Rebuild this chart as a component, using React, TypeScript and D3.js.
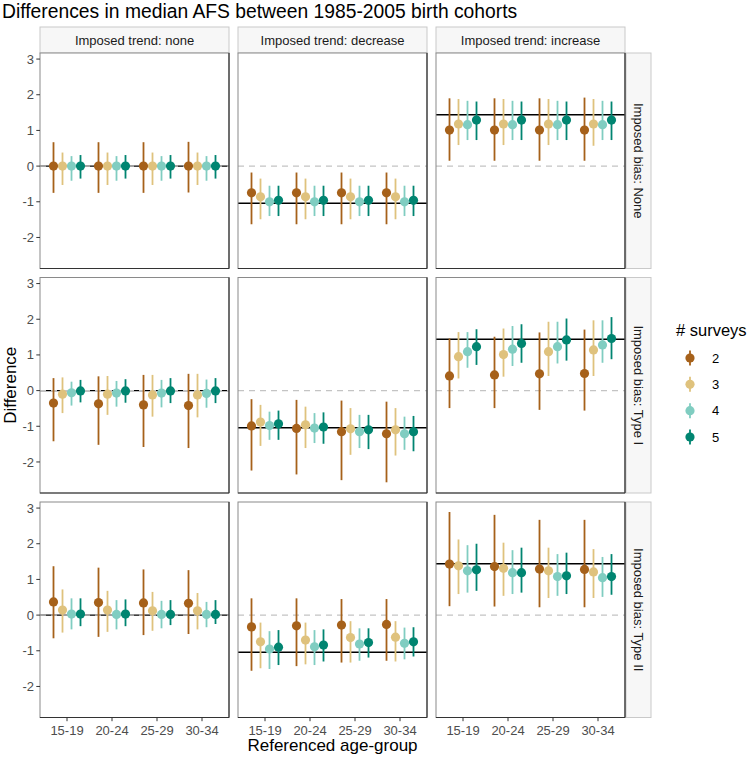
import React from "react";
import * as d3 from "d3";

const ages = ["15-19", "20-24", "25-29", "30-34"];
const surveys = ["2", "3", "4", "5"];
const trends = ["none", "decrease", "increase"];
const biases = ["None", "Type I", "Type II"];
const trueValues = [0, -1.04, 1.44];
const yTicks = [-2, -1, 0, 1, 2, 3];
const colors = ["#A6611A", "#DFC27D", "#80CDC1", "#018571"];

// [age][survey]
const noneNoneEst = [[0, 0, 0, 0], [0, 0, 0, 0], [0, 0, 0, 0], [0, 0, 0, 0]];
const noneNoneLo = [[-0.75, -0.53, -0.41, -0.35], [-0.75, -0.53, -0.41, -0.35], [-0.75, -0.53, -0.41, -0.35], [-0.74, -0.53, -0.41, -0.35]];
const noneNoneHi = [[0.67, 0.38, 0.28, 0.31], [0.67, 0.38, 0.28, 0.31], [0.67, 0.38, 0.28, 0.31], [0.68, 0.38, 0.28, 0.31]];

const noneDecEst = [[-0.75, -0.86, -1.0, -0.96], [-0.75, -0.86, -1.0, -0.96], [-0.75, -0.86, -1.0, -0.96], [-0.75, -0.86, -1.0, -0.96]];
const noneDecLo = [[-1.63, -1.49, -1.4, -1.4], [-1.63, -1.49, -1.4, -1.4], [-1.63, -1.49, -1.4, -1.4], [-1.63, -1.49, -1.4, -1.4]];
const noneDecHi = [[-0.18, -0.35, -0.55, -0.55], [-0.18, -0.35, -0.55, -0.55], [-0.18, -0.35, -0.55, -0.55], [-0.18, -0.35, -0.55, -0.55]];

const noneIncEst = [[1.01, 1.18, 1.16, 1.29], [1.01, 1.18, 1.16, 1.29], [1.01, 1.18, 1.16, 1.29], [1.01, 1.18, 1.16, 1.29]];
const noneIncLo = [[0.15, 0.59, 0.73, 0.73], [0.15, 0.59, 0.73, 0.73], [0.15, 0.59, 0.73, 0.73], [0.15, 0.57, 0.73, 0.73]];
const noneIncHi = [[1.9, 1.88, 1.83, 1.81], [1.9, 1.88, 1.83, 1.81], [1.9, 1.88, 1.83, 1.81], [1.92, 1.88, 1.83, 1.81]];

const t1NoneEst = [[-0.35, -0.1, -0.06, -0.01], [-0.37, -0.1, -0.07, -0.01], [-0.4, -0.12, -0.07, -0.01], [-0.42, -0.12, -0.08, -0.01]];
const t1NoneLo = [[-1.42, -0.63, -0.42, -0.33], [-1.52, -0.68, -0.45, -0.34], [-1.58, -0.73, -0.47, -0.35], [-1.61, -0.75, -0.48, -0.35]];
const t1NoneHi = [[0.35, 0.37, 0.25, 0.3], [0.4, 0.41, 0.27, 0.32], [0.44, 0.44, 0.3, 0.35], [0.47, 0.47, 0.31, 0.35]];

const t1DecEst = [[-0.99, -0.88, -0.98, -0.93], [-1.06, -0.96, -1.05, -1.02], [-1.15, -1.07, -1.15, -1.1], [-1.21, -1.1, -1.21, -1.15]];
const t1DecLo = [[-2.24, -1.55, -1.38, -1.38], [-2.35, -1.61, -1.47, -1.49], [-2.51, -1.8, -1.61, -1.64], [-2.57, -1.82, -1.66, -1.7]];
const t1DecHi = [[-0.24, -0.4, -0.59, -0.56], [-0.26, -0.45, -0.63, -0.61], [-0.28, -0.49, -0.68, -0.68], [-0.31, -0.49, -0.73, -0.71]];

const t1IncEst = [[0.41, 0.95, 1.09, 1.23], [0.44, 1.01, 1.16, 1.32], [0.47, 1.09, 1.23, 1.42], [0.48, 1.14, 1.28, 1.46]];
const t1IncLo = [[-0.49, 0.34, 0.64, 0.72], [-0.49, 0.39, 0.69, 0.78], [-0.54, 0.41, 0.76, 0.84], [-0.56, 0.41, 0.78, 0.88]];
const t1IncHi = [[1.46, 1.64, 1.64, 1.72], [1.51, 1.74, 1.81, 1.86], [1.63, 1.93, 1.93, 2.02], [1.71, 1.97, 1.97, 2.06]];

const t2NoneEst = [[0.37, 0.14, 0.03, 0.03], [0.35, 0.14, 0.02, 0.03], [0.34, 0.12, 0.02, 0.02], [0.33, 0.12, 0.02, 0.02]];
const t2NoneLo = [[-0.65, -0.49, -0.4, -0.31], [-0.61, -0.47, -0.4, -0.31], [-0.56, -0.44, -0.37, -0.28], [-0.53, -0.4, -0.34, -0.25]];
const t2NoneHi = [[1.37, 0.72, 0.47, 0.47], [1.33, 0.68, 0.42, 0.44], [1.28, 0.65, 0.4, 0.42], [1.26, 0.62, 0.37, 0.42]];

const t2DecEst = [[-0.33, -0.75, -0.95, -0.9], [-0.3, -0.7, -0.89, -0.84], [-0.28, -0.63, -0.81, -0.77], [-0.26, -0.62, -0.79, -0.75]];
const t2DecLo = [[-1.56, -1.49, -1.51, -1.4], [-1.43, -1.38, -1.4, -1.3], [-1.33, -1.33, -1.28, -1.19], [-1.28, -1.3, -1.24, -1.16]];
const t2DecHi = [[0.47, -0.21, -0.45, -0.42], [0.47, -0.21, -0.42, -0.4], [0.45, -0.17, -0.37, -0.37], [0.45, -0.17, -0.35, -0.34]];

const t2IncEst = [[1.43, 1.38, 1.24, 1.27], [1.36, 1.31, 1.19, 1.19], [1.29, 1.24, 1.08, 1.1], [1.28, 1.21, 1.05, 1.08]];
const t2IncLo = [[0.25, 0.59, 0.63, 0.68], [0.24, 0.54, 0.59, 0.63], [0.22, 0.48, 0.54, 0.59], [0.22, 0.48, 0.51, 0.57]];
const t2IncHi = [[2.89, 2.12, 1.96, 2.0], [2.81, 2.03, 1.82, 1.89], [2.67, 1.89, 1.71, 1.75], [2.67, 1.85, 1.63, 1.71]];

const panelEst = [
  [noneNoneEst, noneDecEst, noneIncEst],
  [t1NoneEst, t1DecEst, t1IncEst],
  [t2NoneEst, t2DecEst, t2IncEst],
];
const panelLo = [
  [noneNoneLo, noneDecLo, noneIncLo],
  [t1NoneLo, t1DecLo, t1IncLo],
  [t2NoneLo, t2DecLo, t2IncLo],
];
const panelHi = [
  [noneNoneHi, noneDecHi, noneIncHi],
  [t1NoneHi, t1DecHi, t1IncHi],
  [t2NoneHi, t2DecHi, t2IncHi],
];

const FONT = "'Liberation Sans', Arial, Helvetica, sans-serif";
const W = 748;
const H = 757;
const left0 = 40;
const panelW = 189;
const colStep = 198;
const top0 = 53;
const panelH = 215.5;
const rowStep = 224.5;
const stripH = 26;

export default function App() {
  const y = d3.scaleLinear().domain([-2.87, 3.17]).range([panelH, 0]);
  const x = d3.scalePoint<string>().domain(ages).range([0, panelW]).padding(0.6);
  const dodge = d3.scaleBand<string>().domain(surveys).range([-18, 18]);

  const panels: React.ReactNode[] = [];
  biases.forEach((bias, r) => {
    trends.forEach((trend, c) => {
      const px = left0 + c * colStep;
      const py = top0 + r * rowStep;
      const est = panelEst[r][c];
      const lo = panelLo[r][c];
      const hi = panelHi[r][c];
      panels.push(
        <g key={`p-${r}-${c}`} transform={`translate(${px},${py})`}>
          <rect x={0} y={0} width={panelW} height={panelH} fill="#fff" />
          <line x1={0} x2={panelW} y1={y(trueValues[c])} y2={y(trueValues[c])} stroke="#000" strokeWidth={1.4} />
          <line x1={0} x2={panelW} y1={y(0)} y2={y(0)} stroke="#C4C4C4" strokeWidth={1.3} strokeDasharray="6,5" />
          {ages.map((a, ai) =>
            surveys.map((s, si) => {
              const cx = (x(a) as number) + (dodge(s) as number) + dodge.bandwidth() / 2;
              return (
                <g key={`${a}-${s}`}>
                  <line x1={cx} x2={cx} y1={y(lo[ai][si])} y2={y(hi[ai][si])} stroke={colors[si]} strokeWidth={1.8} />
                  <circle cx={cx} cy={y(est[ai][si])} r={4.6} fill={colors[si]} />
                </g>
              );
            })
          )}
          <rect x={0} y={0} width={panelW} height={panelH} fill="none" stroke="#8a8a8a" strokeWidth={1} />
          <line x1={panelW} x2={panelW} y1={0} y2={panelH} stroke="#333" strokeWidth={1.2} />
          <line x1={0} x2={panelW} y1={panelH} y2={panelH} stroke="#333" strokeWidth={1.2} />
          {c === 0 &&
            yTicks.map((t) => (
              <g key={`yt-${t}`}>
                <line x1={-3.7} x2={0} y1={y(t)} y2={y(t)} stroke="#333" strokeWidth={1} />
                <text x={-6} y={y(t)} dy="0.35em" textAnchor="end" fontSize={13} fill="#4D4D4D" fontFamily={FONT}>
                  {t}
                </text>
              </g>
            ))}
          {r === 2 &&
            ages.map((a) => (
              <g key={`xt-${a}`}>
                <line x1={x(a)} x2={x(a)} y1={panelH} y2={panelH + 3.7} stroke="#333" strokeWidth={1} />
                <text x={x(a)} y={panelH + 17} textAnchor="middle" fontSize={13} fill="#4D4D4D" fontFamily={FONT}>
                  {a}
                </text>
              </g>
            ))}
        </g>
      );
    });
  });

  const strips: React.ReactNode[] = [];
  trends.forEach((trend, c) => {
    const px = left0 + c * colStep;
    strips.push(
      <g key={`st-${c}`}>
        <rect x={px} y={top0 - stripH} width={panelW} height={stripH} fill="#F7F7F7" stroke="#C9C9C9" strokeWidth={1} />
        <text x={px + panelW / 2} y={top0 - stripH / 2} dy="0.35em" textAnchor="middle" fontSize={13} fill="#1A1A1A" fontFamily={FONT}>
          {`Imposed trend: ${trend}`}
        </text>
      </g>
    );
  });
  biases.forEach((bias, r) => {
    const py = top0 + r * rowStep;
    const sx = left0 + 2 * colStep + panelW + 1;
    strips.push(
      <g key={`sr-${r}`}>
        <rect x={sx} y={py} width={stripH - 1} height={panelH} fill="#F7F7F7" stroke="#C9C9C9" strokeWidth={1} />
        <text
          transform={`translate(${sx + (stripH - 1) / 2},${py + panelH / 2}) rotate(90)`}
          dy="0.35em"
          textAnchor="middle"
          fontSize={13}
          fill="#1A1A1A"
          fontFamily={FONT}
        >
          {`Imposed bias: ${bias}`}
        </text>
      </g>
    );
  });

  const legendY = d3.scalePoint<string>().domain(surveys).range([358, 437]);

  return (
    <svg width={W} height={H} style={{ display: "block", position: "absolute", left: 0, top: 0 }}>
      <rect width={W} height={H} fill="#fff" />
      <text x={2} y={18} fontSize={19.3} fill="#000" fontFamily={FONT}>
        Differences in median AFS between 1985-2005 birth cohorts
      </text>
      {strips}
      {panels}
      <text transform={`translate(16,${top0 + (2 * rowStep + panelH) / 2}) rotate(-90)`} textAnchor="middle" fontSize={17} fill="#000" fontFamily={FONT}>
        Difference
      </text>
      <text x={left0 + (2 * colStep + panelW) / 2} y={751} textAnchor="middle" fontSize={17} fill="#000" fontFamily={FONT}>
        Referenced age-group
      </text>
      <text x={676} y={336} fontSize={16.5} fill="#000" fontFamily={FONT}>
        # surveys
      </text>
      {surveys.map((s, si) => {
        const ly = legendY(s) as number;
        return (
          <g key={`lg-${s}`}>
            <line x1={690} x2={690} y1={ly - 7.5} y2={ly + 7.5} stroke={colors[si]} strokeWidth={1.8} />
            <circle cx={690} cy={ly} r={4.6} fill={colors[si]} />
            <text x={712} y={ly} dy="0.35em" fontSize={13} fill="#000" fontFamily={FONT}>
              {s}
            </text>
          </g>
        );
      })}
    </svg>
  );
}
